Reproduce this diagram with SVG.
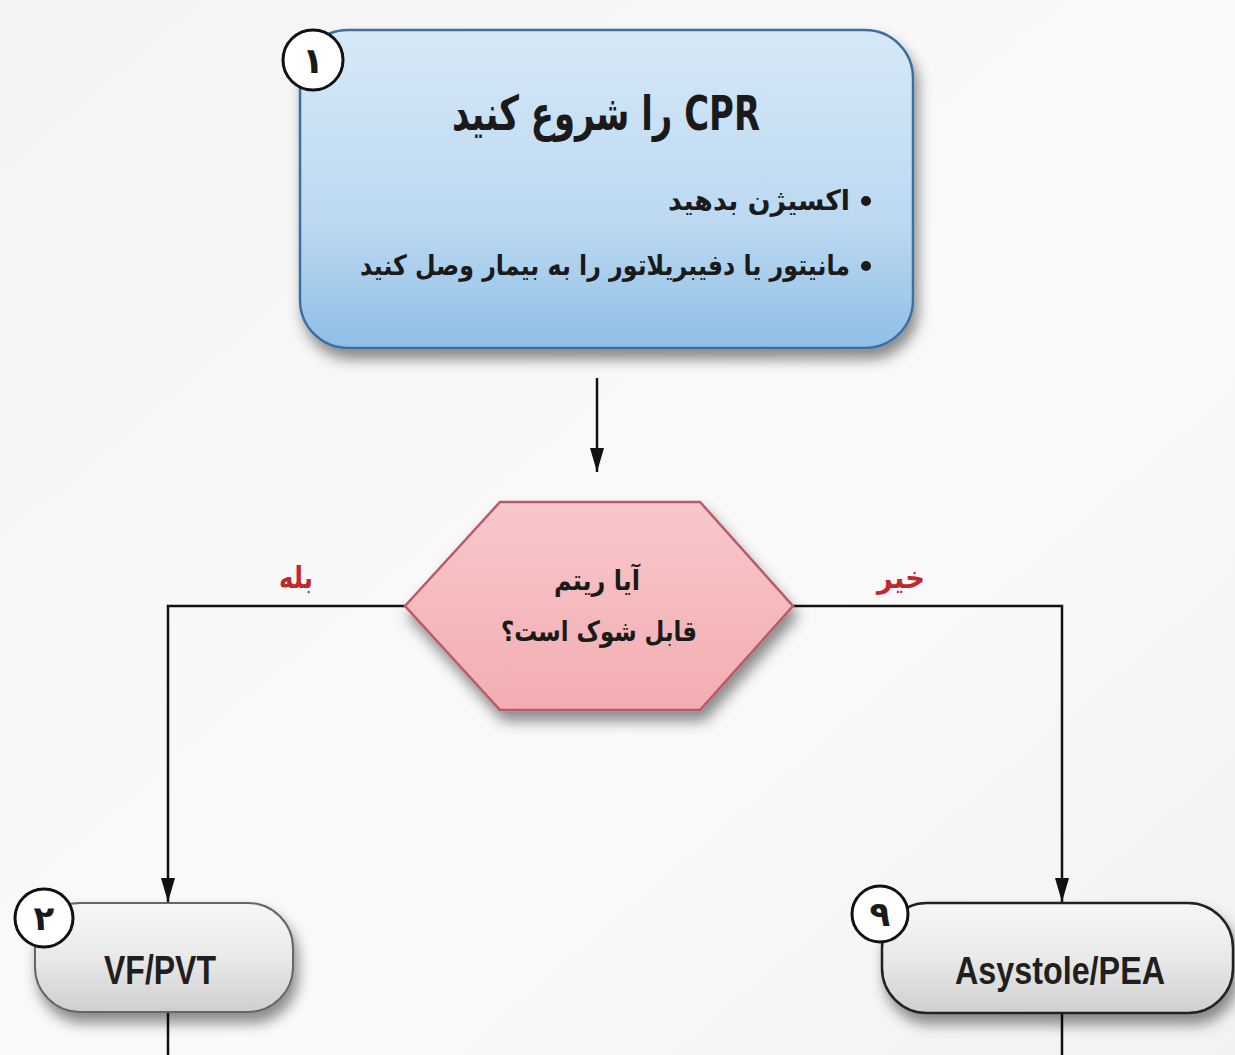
<svg xmlns="http://www.w3.org/2000/svg" width="1235" height="1055" viewBox="0 0 1235 1055">
<defs>
<linearGradient id="bg" x1="0" y1="0" x2="1" y2="1"><stop offset="0" stop-color="#f4f4f4"/><stop offset="0.6" stop-color="#fafafa"/><stop offset="1" stop-color="#f2f2f2"/></linearGradient>
<linearGradient id="blue" x1="0" y1="0" x2="0" y2="1"><stop offset="0" stop-color="#d6e8f7"/><stop offset="0.6" stop-color="#bcd9f1"/><stop offset="1" stop-color="#8fbfe6"/></linearGradient>
<linearGradient id="pink" x1="0" y1="0" x2="0" y2="1"><stop offset="0" stop-color="#f8c8cb"/><stop offset="1" stop-color="#f2adb2"/></linearGradient>
<linearGradient id="gray" x1="0" y1="0" x2="0" y2="1"><stop offset="0" stop-color="#f7f7f7"/><stop offset="0.5" stop-color="#e9e9e9"/><stop offset="1" stop-color="#cfcfcf"/></linearGradient>
<filter id="sh" x="-20%" y="-20%" width="140%" height="150%"><feDropShadow dx="4" dy="10" stdDeviation="7" flood-color="#000" flood-opacity="0.45"/></filter>
<marker id="ah" markerWidth="24" markerHeight="14" refX="24" refY="7" orient="auto" markerUnits="userSpaceOnUse" viewBox="0 0 24 14"><path d="M0,0 L24,7 L0,14 Z" fill="#111"/></marker>
<style>
.fa{font-family:"DejaVu Sans",sans-serif;font-weight:bold;fill:#1a1a1a}
.en{font-family:"Liberation Sans",Arial,sans-serif;font-weight:bold;fill:#1f1f1f}
.badge{fill:#fff;stroke:#111;stroke-width:3}
.ln{fill:none;stroke:#111;stroke-width:2.5}
.lbl{font-family:"DejaVu Sans",sans-serif;font-weight:bold;fill:#c0282f;font-size:30px}
</style>
</defs>
<rect width="1235" height="1055" fill="url(#bg)"/>
<g id="connectors">
<line class="ln" x1="597" y1="378" x2="597" y2="472" marker-end="url(#ah)"/>
<polyline class="ln" points="405,606 168,606 168,902" marker-end="url(#ah)"/>
<polyline class="ln" points="793,606 1062,606 1062,902" marker-end="url(#ah)"/>
<line class="ln" x1="168" y1="1012" x2="168" y2="1055"/>
<line class="ln" x1="1062" y1="1013" x2="1062" y2="1055"/>
<text class="lbl" x="296" y="588" text-anchor="middle" direction="rtl" textLength="34" lengthAdjust="spacingAndGlyphs">بله</text>
<text class="lbl" x="901" y="588" text-anchor="middle" direction="rtl" textLength="48" lengthAdjust="spacingAndGlyphs">خیر</text>
</g>
<g id="node1">
<rect x="300" y="30" width="613" height="318" rx="48" fill="url(#blue)" stroke="#3d6e9e" stroke-width="2.5" filter="url(#sh)"/>
<text class="fa" x="606" y="130" font-size="48" text-anchor="middle" direction="rtl" textLength="308" lengthAdjust="spacingAndGlyphs">CPR را شروع کنید</text>
<circle cx="866" cy="201" r="5" fill="#1a1a1a"/>
<circle cx="866" cy="266" r="5" fill="#1a1a1a"/>
<text class="fa" x="850" y="210" font-size="28" text-anchor="start" direction="rtl" textLength="182" lengthAdjust="spacingAndGlyphs">اکسیژن بدهید</text>
<text class="fa" x="850" y="275" font-size="28" text-anchor="start" direction="rtl" textLength="490" lengthAdjust="spacingAndGlyphs">مانیتور یا دفیبریلاتور را به بیمار وصل کنید</text>
<circle class="badge" cx="313" cy="60" r="30"/>
<text class="fa" x="313" y="73" font-size="36" text-anchor="middle">۱</text>
</g>
<g id="decision">
<polygon points="405,606 500,502 700,502 793,606 700,710 500,710" fill="url(#pink)" stroke="#b85a68" stroke-width="2.5" filter="url(#sh)"/>
<text class="fa" x="597" y="590" font-size="28" text-anchor="middle" direction="rtl" textLength="86" lengthAdjust="spacingAndGlyphs">آیا ریتم</text>
<text class="fa" x="599" y="641" font-size="28" text-anchor="middle" direction="rtl" textLength="196" lengthAdjust="spacingAndGlyphs">قابل شوک است؟</text>
</g>
<g id="node2">
<rect x="35" y="903" width="258" height="109" rx="45" fill="url(#gray)" stroke="#666" stroke-width="2" filter="url(#sh)"/>
<text class="en" x="160" y="984" font-size="40" text-anchor="middle" textLength="112" lengthAdjust="spacingAndGlyphs">VF/PVT</text>
<circle class="badge" cx="44" cy="918" r="29"/>
<text class="fa" x="44" y="930" font-size="34" text-anchor="middle">۲</text>
</g>
<g id="node9">
<rect x="882" y="903" width="351" height="110" rx="45" fill="url(#gray)" stroke="#222" stroke-width="2.5" filter="url(#sh)"/>
<text class="en" x="1060" y="984" font-size="38" text-anchor="middle" textLength="210" lengthAdjust="spacingAndGlyphs">Asystole/PEA</text>
<circle class="badge" cx="880" cy="914" r="28"/>
<text class="fa" x="880" y="926" font-size="34" text-anchor="middle">۹</text>
</g>
</svg>
